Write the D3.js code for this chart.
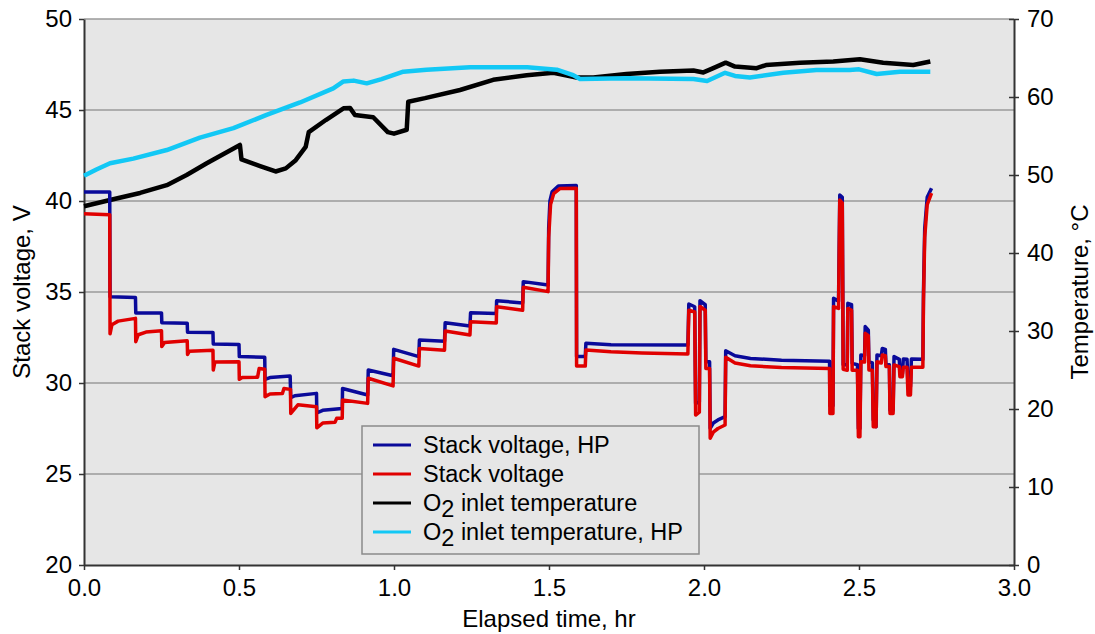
<!DOCTYPE html>
<html><head><meta charset="utf-8">
<script src="https://cdn.jsdelivr.net/npm/d3@7"></script>
<style>body{margin:0;background:#fff;}svg{display:block;font-family:"Liberation Sans",Arial,sans-serif;}</style>
</head><body><svg id="c" width="1095" height="634"></svg>
<script>
// ---- data (time in hr) ----
const stackVoltageHP = [
[0,40.5],[0.083,40.5],[0.084,34.74],[0.166,34.7],[0.167,33.85],[0.25,33.85],[0.251,33.31],[0.333,33.28],
[0.334,32.79],[0.416,32.78],[0.417,32.14],[0.5,32.12],[0.501,31.45],[0.583,31.42],[0.584,30.2],[0.6,30.3],
[0.665,30.38],[0.667,29.2],[0.68,29.3],[0.75,29.43],[0.751,28.35],[0.77,28.5],[0.833,28.6],[0.834,29.7],
[0.915,29.34],[0.917,30.71],[0.997,30.4],[0.999,31.85],[1.08,31.45],[1.082,32.36],[1.163,32.3],[1.165,33.31],
[1.245,33.13],[1.247,33.86],[1.33,33.82],[1.331,34.52],[1.415,34.4],[1.417,35.57],[1.497,35.38],[1.499,38.5],
[1.503,40.0],[1.51,40.5],[1.53,40.82],[1.588,40.85],[1.589,31.45],[1.617,31.45],[1.619,32.18],[1.7,32.1],
[1.948,32.09],[1.951,34.34],[1.97,34.19],[1.973,28.88],[1.985,28.95],[1.987,34.52],[2.004,34.3],[2.006,31.17],
[2.018,31.17],[2.02,27.51],[2.03,27.8],[2.045,27.97],[2.068,28.15],[2.07,31.77],[2.1,31.5],[2.15,31.35],
[2.25,31.25],[2.405,31.2],[2.406,28.75],[2.416,28.75],[2.418,34.65],[2.434,34.5],[2.438,40.33],[2.446,40.2],
[2.449,31.0],[2.462,31.0],[2.464,34.38],[2.476,34.3],[2.478,31.08],[2.495,31.0],[2.498,27.5],[2.503,27.5],
[2.506,31.54],[2.518,31.5],[2.52,33.1],[2.53,32.9],[2.532,31.17],[2.543,31.1],[2.546,27.97],[2.555,27.6],
[2.558,31.54],[2.572,31.5],[2.575,31.9],[2.585,31.85],[2.587,30.99],[2.598,31.0],[2.6,28.5],[2.61,28.5],
[2.613,31.45],[2.63,31.3],[2.632,30.5],[2.64,30.5],[2.643,31.32],[2.655,31.3],[2.658,29.8],[2.666,29.8],
[2.669,31.32],[2.706,31.3],[2.708,35.0],[2.712,38.5],[2.72,40.2],[2.734,40.7]];

const stackVoltage = [
[0,39.3],[0.083,39.25],[0.084,32.7],[0.09,33.2],[0.11,33.4],[0.166,33.55],[0.167,32.27],[0.175,32.65],
[0.2,32.8],[0.25,32.87],[0.251,32.0],[0.26,32.22],[0.333,32.32],[0.334,31.57],[0.34,31.75],[0.416,31.8],
[0.417,30.71],[0.422,31.15],[0.5,31.17],[0.501,30.2],[0.51,30.3],[0.56,30.32],[0.565,30.8],[0.583,30.75],
[0.584,29.25],[0.6,29.4],[0.64,29.42],[0.645,29.7],[0.666,29.65],[0.667,28.33],[0.69,28.8],[0.75,28.7],
[0.751,27.54],[0.77,27.8],[0.81,27.85],[0.815,28.06],[0.833,28.06],[0.834,29.07],[0.915,28.88],[0.917,30.26],
[0.997,29.84],[0.999,31.36],[1.08,30.93],[1.082,31.9],[1.163,31.8],[1.165,32.86],[1.245,32.64],[1.247,33.37],
[1.33,33.3],[1.331,34.19],[1.415,34.0],[1.417,35.26],[1.497,35.02],[1.499,38.0],[1.505,39.8],[1.515,40.4],
[1.535,40.68],[1.588,40.7],[1.589,30.93],[1.617,30.93],[1.619,31.81],[1.7,31.72],[1.8,31.65],[1.948,31.59],
[1.951,34.0],[1.97,33.9],[1.973,28.24],[1.985,28.4],[1.987,34.2],[2.004,34.0],[2.006,30.8],[2.018,30.8],
[2.02,26.96],[2.03,27.3],[2.045,27.5],[2.068,27.69],[2.07,31.41],[2.1,31.1],[2.15,30.95],[2.25,30.85],
[2.405,30.8],[2.406,28.33],[2.416,28.33],[2.418,34.2],[2.434,34.1],[2.438,40.05],[2.446,39.9],[2.449,30.75],
[2.462,30.7],[2.464,34.1],[2.476,34.0],[2.478,30.7],[2.495,30.7],[2.498,27.05],[2.503,27.05],[2.506,31.17],
[2.518,31.15],[2.52,32.73],[2.53,32.6],[2.532,30.71],[2.543,30.7],[2.546,27.6],[2.555,27.6],[2.558,31.17],
[2.572,31.1],[2.575,31.54],[2.585,31.5],[2.587,30.9],[2.598,30.9],[2.6,28.33],[2.61,28.33],[2.613,30.99],
[2.63,30.9],[2.632,30.35],[2.64,30.35],[2.643,30.86],[2.655,30.86],[2.658,29.34],[2.666,29.34],[2.669,30.86],
[2.706,30.86],[2.708,34.5],[2.712,38.0],[2.72,39.8],[2.734,40.43]];

const o2InletTemp = [
[0,46.0],[0.084,46.8],[0.181,47.7],[0.267,48.7],[0.331,50.0],[0.396,51.5],[0.503,53.85],[0.508,52.0],
[0.568,51.15],[0.618,50.45],[0.651,50.85],[0.683,51.9],[0.715,53.6],[0.725,55.5],[0.78,57.05],[0.837,58.55],
[0.858,58.6],[0.874,57.7],[0.933,57.4],[0.98,55.5],[1.0,55.3],[1.041,55.8],[1.046,59.4],[1.1,59.85],
[1.213,60.9],[1.32,62.2],[1.428,62.8],[1.514,63.1],[1.589,62.5],[1.643,62.5],[1.75,62.95],[1.858,63.25],
[1.966,63.4],[1.998,63.15],[2.03,63.7],[2.07,64.4],[2.1,63.9],[2.17,63.7],[2.2,64.1],[2.31,64.4],
[2.417,64.55],[2.503,64.85],[2.578,64.4],[2.675,64.1],[2.73,64.55]];

const o2InletTempHP = [
[0,49.9],[0.04,50.7],[0.084,51.5],[0.159,52.1],[0.267,53.2],[0.374,54.8],[0.482,56.0],[0.589,57.7],
[0.697,59.3],[0.804,61.1],[0.837,62.0],[0.87,62.1],[0.912,61.75],[0.96,62.3],[1.03,63.25],[1.105,63.5],
[1.245,63.8],[1.43,63.8],[1.525,63.5],[1.578,62.8],[1.6,62.3],[1.75,62.4],[1.966,62.3],[2.01,62.05],
[2.068,63.1],[2.1,62.7],[2.148,62.5],[2.256,63.1],[2.363,63.45],[2.47,63.45],[2.5,63.55],[2.557,62.95],
[2.632,63.25],[2.73,63.25]];

const xTicks = [0,0.5,1.0,1.5,2.0,2.5,3.0];
const leftTicks = [20,25,30,35,40,45,50];
const rightTicks = [0,10,20,30,40,50,60,70];
const legendLabels = ["Stack voltage, HP","Stack voltage","O2 inlet temperature","O2 inlet temperature, HP"];
const colors = ["#0a0a9a","#e00000","#000000","#12c8f5"];

// ---- layout ----
const svg = d3.select("#c");
const L=84, T=19, R=1014, B=565;
const x = d3.scaleLinear().domain([0,3]).range([L,R]);
const yV = d3.scaleLinear().domain([20,50]).range([B,T]);
const yT = d3.scaleLinear().domain([0,70]).range([B,T]);

svg.append("rect").attr("x",L).attr("y",T).attr("width",R-L).attr("height",B-T).attr("fill","#e6e6e6");
// gridlines
svg.append("g").selectAll("line").data(leftTicks.filter(d=>d>20)).join("line")
  .attr("x1",L).attr("x2",R).attr("y1",d=>yV(d)).attr("y2",d=>yV(d))
  .attr("stroke","#9a9a9a").attr("stroke-width",1.3);

const fs = "24px";
// axes
const gx = svg.append("g").attr("transform",`translate(0,${B})`)
  .call(d3.axisBottom(x).tickValues(xTicks).tickFormat(d3.format(".1f")).tickSize(5).tickSizeOuter(0).tickPadding(7));
const gl = svg.append("g").attr("transform",`translate(${L},0)`)
  .call(d3.axisLeft(yV).tickValues(leftTicks).tickSize(5).tickSizeOuter(0).tickPadding(7));
const gr = svg.append("g").attr("transform",`translate(${R},0)`)
  .call(d3.axisRight(yT).tickValues(rightTicks).tickSize(5).tickSizeOuter(0).tickPadding(8));
gr.selectAll(".tick line").attr("x1",-5);
[gx,gl,gr].forEach(g=>{
  g.selectAll("path").attr("stroke","#333").attr("stroke-width",2);
  g.selectAll(".tick line").attr("stroke","#333").attr("stroke-width",1.5);
  g.selectAll("text").attr("font-size",fs).attr("fill","#000").attr("font-family","Liberation Sans, Arial, sans-serif");
});
gx.selectAll("text").attr("dy","0.8em");

// lines
const lineV = d3.line().x(d=>x(d[0])).y(d=>yV(d[1]));
const lineT = d3.line().x(d=>x(d[0])).y(d=>yT(d[1]));
svg.append("path").datum(o2InletTemp).attr("d",lineT).attr("fill","none").attr("stroke",colors[2]).attr("stroke-width",4.5).attr("stroke-linejoin","round");
svg.append("path").datum(o2InletTempHP).attr("d",lineT).attr("fill","none").attr("stroke",colors[3]).attr("stroke-width",4.5).attr("stroke-linejoin","round");
svg.append("path").datum(stackVoltageHP).attr("d",lineV).attr("fill","none").attr("stroke",colors[0]).attr("stroke-width",3.5).attr("stroke-linejoin","round");
svg.append("path").datum(stackVoltage).attr("d",lineV).attr("fill","none").attr("stroke",colors[1]).attr("stroke-width",3.5).attr("stroke-linejoin","round");

// axis titles
svg.append("text").attr("x",(L+R)/2).attr("y",627).attr("text-anchor","middle").attr("font-size","24px").text("Elapsed time, hr");
svg.append("text").attr("transform",`translate(30,${(T+B)/2}) rotate(-90)`).attr("text-anchor","middle").attr("font-size","24px").text("Stack voltage, V");
svg.append("text").attr("transform",`translate(1088,${(T+B)/2}) rotate(-90)`).attr("text-anchor","middle").attr("font-size","24px").text("Temperature, °C");

// legend
const lg = svg.append("g");
lg.append("rect").attr("x",362).attr("y",426).attr("width",337).attr("height",128)
  .attr("fill","#e6e6e6").attr("stroke","#8a8a8a").attr("stroke-width",1.5);
legendLabels.forEach((lab,i)=>{
  const yy = 445 + i*29;
  lg.append("line").attr("x1",373).attr("x2",411).attr("y1",yy).attr("y2",yy).attr("stroke",colors[i]).attr("stroke-width",3);
  const t = lg.append("text").attr("x",423).attr("y",yy+8).attr("font-size","23.5px");
  if (lab.startsWith("O2")) {
    t.append("tspan").text("O");
    t.append("tspan").attr("dy",6).text("2");
    t.append("tspan").attr("dy",-6).text(lab.slice(2));
  } else t.text(lab);
});
</script></body></html>
